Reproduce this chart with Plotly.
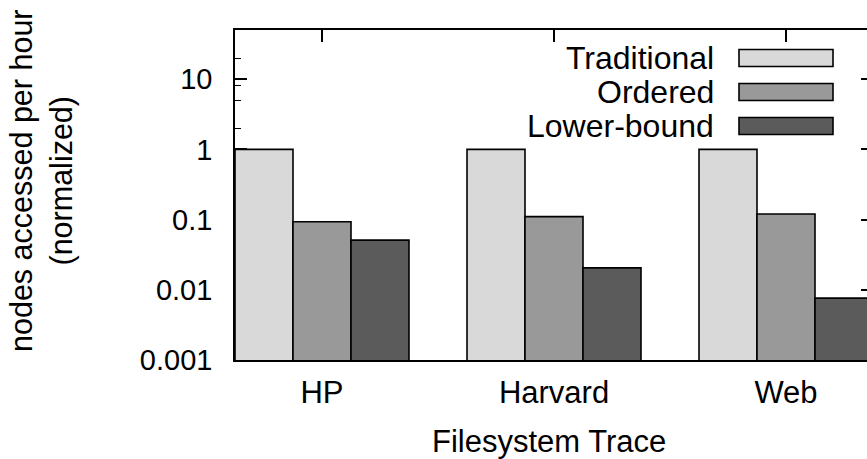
import plotly.graph_objects as go

categories = ["HP", "Harvard", "Web"]
series_names = ["Traditional", "Ordered", "Lower-bound"]
traditional = [1.0, 1.0, 1.0]
ordered = [0.093, 0.11, 0.12]
lower_bound = [0.051, 0.0205, 0.0076]
y_tick_vals = [0.001, 0.01, 0.1, 1, 10]
y_tick_text = ["0.001", "0.01", "0.1", "1", "10"]
y_minor_vals = [0.002, 0.005, 0.008, 0.02, 0.05, 0.08, 0.2, 0.5, 0.8, 2, 5, 8, 20, 50]

colors = ["#d9d9d9", "#999999", "#5b5b5b"]
FONT = "Liberation Sans, Arial, Helvetica, sans-serif"

W, H = 867, 459
L, R, T, B = 235, 0, 30, 99
PW, PH = W - L - R, H - T - B

def px(x):
    return (x - L) / PW

def py(y):
    return (H - B - y) / PH

fig = go.Figure()
for name, vals, col in zip(series_names, [traditional, ordered, lower_bound], colors):
    fig.add_trace(go.Bar(
        x=categories, y=vals, name=name, showlegend=False,
        marker=dict(color=col, line=dict(color="#000000", width=1.6)),
    ))

# helper trace for the right-hand tick axis
fig.add_trace(go.Scatter(x=categories, y=traditional, yaxis="y2", mode="none",
                         showlegend=False, hoverinfo="skip"))

unit = 232.0
x0 = -(322 - L) / unit
x1 = x0 + PW / unit

fig.update_layout(
    width=W, height=H,
    margin=dict(l=L, r=R, t=T, b=B, pad=0),
    paper_bgcolor="white", plot_bgcolor="white",
    barmode="group", bargap=0.25, bargroupgap=0,
    font=dict(family=FONT, size=30, color="black"),
    xaxis=dict(
        range=[x0, x1], showgrid=False, zeroline=False,
        showline=True, linecolor="black", linewidth=1.6, mirror="ticks",
        ticks="inside", ticklen=12, tickwidth=1.6, tickcolor="black",
        ticklabelstandoff=4, layer="below traces",
        tickfont=dict(family=FONT, size=31),
    ),
    yaxis=dict(
        type="log", range=[-3, 1.7], showgrid=False, zeroline=False,
        showline=True, linecolor="black", linewidth=1.6,
        ticks="inside", ticklen=12, tickwidth=1.6, tickcolor="black",
        tickvals=y_tick_vals, ticktext=y_tick_text,
        minor=dict(tickvals=y_minor_vals, ticks="inside", ticklen=6,
                   tickwidth=1.4, tickcolor="black"),
        ticklabelstandoff=15, layer="below traces",
        tickfont=dict(family=FONT, size=29),
    ),
    yaxis2=dict(
        type="log", range=[-3, 1.7], overlaying="y", side="right",
        showgrid=False, zeroline=False, showline=False,
        ticks="inside", ticklen=6, tickwidth=1.6, tickcolor="black",
        tickvals=y_tick_vals, showticklabels=False, layer="below traces",
    ),
)

# legend drawn by hand (text to the left of a wide swatch)
leg_y = [58, 92, 126]
for name, col, yy in zip(series_names, colors, leg_y):
    fig.add_annotation(text=name, xref="paper", yref="paper", x=px(716), y=py(yy),
                       xanchor="right", yanchor="middle", showarrow=False,
                       font=dict(family=FONT, size=32))
    fig.add_shape(type="rect", xref="paper", yref="paper",
                  x0=px(739), x1=px(833), y0=py(yy + 8.5), y1=py(yy - 8.5),
                  fillcolor=col, line=dict(color="black", width=1.6))

fig.add_annotation(text="Filesystem Trace", xref="paper", yref="paper",
                   x=px(549), y=py(441), xanchor="center", yanchor="middle",
                   showarrow=False, font=dict(family=FONT, size=31))
fig.add_annotation(text="nodes accessed per hour<br>(normalized)", xref="paper", yref="paper",
                   x=px(42), y=py(181), xanchor="center", yanchor="middle", textangle=-90,
                   showarrow=False, font=dict(family=FONT, size=30.5))

fig.write_html("out.html")
